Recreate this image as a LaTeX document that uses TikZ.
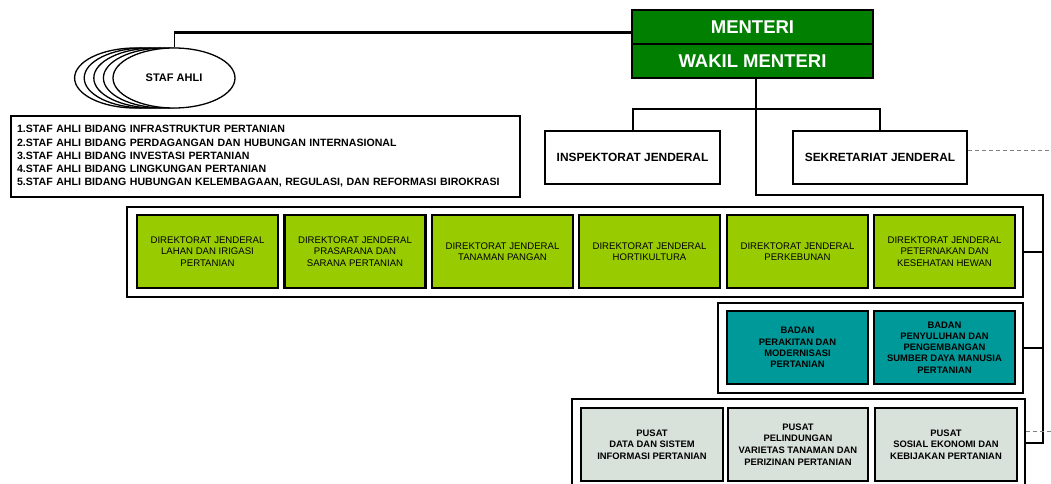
\documentclass[tikz,border=0pt]{standalone}
\usepackage{fontspec}
\setmainfont{Liberation Sans}
\usetikzlibrary{shapes.geometric}
\definecolor{mgreen}{HTML}{007F00}
\definecolor{djgreen}{HTML}{99CC00}
\definecolor{bteal}{HTML}{009999}
\definecolor{pgray}{HTML}{D9E1DB}
\begin{document}
\begin{tikzpicture}[x=1pt,y=-1pt,
  mbox/.style={draw,line width=2pt,fill=mgreen,text=white,inner sep=0pt,minimum width=241pt,minimum height=34pt,font=\bfseries\fontsize{18.5}{20}\selectfont},
  wbox/.style={draw,line width=2pt,fill=white,inner sep=0pt,minimum width=175pt,minimum height=53pt,font=\bfseries\fontsize{11.9}{13}\selectfont},
  outer/.style={draw,line width=2pt,fill=white,inner sep=0pt},
  dj/.style={draw,line width=2.5pt,fill=djgreen,inner sep=0pt,align=center,minimum width=141pt,minimum height=73pt,font=\fontsize{9.6}{11.3}\selectfont},
  bd/.style={draw,line width=2.5pt,fill=bteal,inner sep=0pt,align=center,minimum width=141pt,minimum height=73pt,font=\bfseries\fontsize{9.4}{11.2}\selectfont},
  ps/.style={draw,line width=2.5pt,fill=pgray,inner sep=0pt,align=center,minimum width=142pt,minimum height=73pt,font=\bfseries\fontsize{9.4}{11.7}\selectfont},
  conn/.style={line width=2.5pt},
  dsh/.style={gray,line width=0.8pt,dash pattern=on 4pt off 3pt}]
\clip (0,0) rectangle (1051,484);
\fill[white] (0,0) rectangle (1051,484);

% Menteri
\node[mbox] (m1) at (752.5,27) {MENTERI};
\node[mbox] (m2) at (752.5,61) {WAKIL MENTERI};

% Staf ahli ellipses
\foreach \i in {4,3,2,1} \draw[line width=1.3pt,fill=white] (174-9.6*\i,78) ellipse [x radius=61, y radius=30];
\node[draw,ellipse,line width=1.3pt,fill=white,minimum width=122pt,minimum height=60pt,inner sep=0pt,font=\bfseries\fontsize{11}{12}\selectfont] (staf) at (174,78) {STAF AHLI};

\coordinate (sj0) at (174,33);
\draw[line width=3pt] (sj0 -| m1.west) -- (sj0);
\draw[line width=1pt] (sj0) -- (staf.north);

% Staf list
\node[outer,minimum width=509pt,minimum height=81pt,text width=497pt,align=left,font=\bfseries\fontsize{10.6}{13.3}\selectfont] (list) at (265.5,156.5) {1.STAF AHLI BIDANG INFRASTRUKTUR PERTANIAN\\2.STAF AHLI BIDANG PERDAGANGAN DAN HUBUNGAN INTERNASIONAL\\3.STAF AHLI BIDANG INVESTASI PERTANIAN\\4.STAF AHLI BIDANG LINGKUNGAN PERTANIAN\\5.STAF AHLI BIDANG HUBUNGAN KELEMBAGAAN, REGULASI, DAN REFORMASI BIROKRASI};

% Inspektorat / Sekretariat
\node[wbox] (ij) at (632.5,157.5) {INSPEKTORAT JENDERAL};
\node[wbox,minimum width=174pt] (sk) at (880,157.5) {SEKRETARIAT JENDERAL};

\coordinate (b) at (756,109);
\coordinate (k1) at (756,195);
\coordinate (k2) at (1043,195);
\coordinate (k3) at (1043,443);

% Groups
\node[outer,minimum width=896pt,minimum height=90pt] (djo) at (575,252) {};
\node[dj] (d1) at (207.5,251.5) {DIREKTORAT JENDERAL\\LAHAN DAN IRIGASI\\PERTANIAN};
\node[dj] (d2) at (355,251.5) {DIREKTORAT JENDERAL\\PRASARANA DAN\\SARANA PERTANIAN};
\node[dj] (d3) at (502.5,251.5) {DIREKTORAT JENDERAL\\TANAMAN PANGAN};
\node[dj] (d4) at (649.5,251.5) {DIREKTORAT JENDERAL\\HORTIKULTURA};
\node[dj] (d5) at (797.5,251.5) {DIREKTORAT JENDERAL\\PERKEBUNAN};
\node[dj] (d6) at (944.5,251.5) {DIREKTORAT JENDERAL\\PETERNAKAN DAN\\KESEHATAN HEWAN};

\node[outer,minimum width=305pt,minimum height=90pt] (bo) at (870.5,348) {};
\node[bd] (b1) at (797.5,347.5) {BADAN\\PERAKITAN DAN\\MODERNISASI\\PERTANIAN};
\node[bd] (b2) at (944.5,347.5) {BADAN\\PENYULUHAN DAN\\PENGEMBANGAN\\SUMBER DAYA MANUSIA\\PERTANIAN};

\node[outer,minimum width=453pt,minimum height=90pt] (po) at (798.5,444) {};
\node[ps] (p1) at (652,444.5) {PUSAT\\DATA DAN SISTEM\\INFORMASI PERTANIAN};
\node[ps,minimum width=140pt] (p2) at (798,444.5) {PUSAT\\PELINDUNGAN\\VARIETAS TANAMAN DAN\\PERIZINAN PERTANIAN};
\node[ps] (p3) at (946,444.5) {PUSAT\\SOSIAL EKONOMI DAN\\KEBIJAKAN PERTANIAN};

% Connectors
\draw[conn] (k1 |- m2.south) -- (k1) -- (k2) -- (k3) -- (k3 -| po.east);
\draw[line width=2pt] (ij.north) |- (b) -| (sk.north);
\draw[conn] (djo.east) -- (djo.east -| k2);
\draw[conn] (bo.east) -- (bo.east -| k2);

% Dashed lines
\coordinate (e1) at (1051,150);
\coordinate (e2) at (1051,431);
\draw[dsh] (e1 -| sk.east) -- (e1);
\draw[dsh] (e2 -| po.east) -- (e2);
\end{tikzpicture}
\end{document}
